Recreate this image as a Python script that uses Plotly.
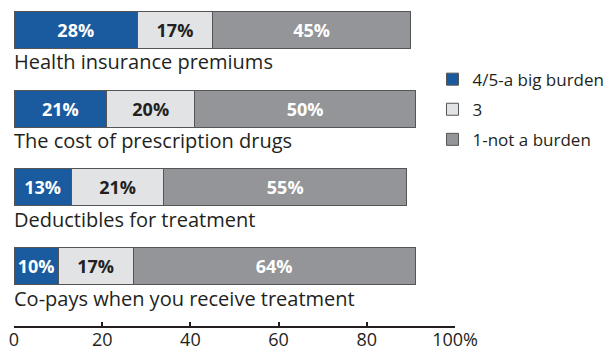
import plotly.graph_objects as go

# Survey items, top to bottom
categories = [
    "Health insurance premiums",
    "The cost of prescription drugs",
    "Deductibles for treatment",
    "Co-pays when you receive treatment",
]

# Share of respondents (%) per burden rating
big_burden = [28, 21, 13, 10]   # 4/5 - a big burden
middle = [17, 20, 21, 17]       # 3
not_burden = [45, 50, 55, 64]   # 1 - not a burden

series_names = ["4/5-a big burden", "3", "1-not a burden"]
tick_values = [0, 20, 40, 60, 80, 100]
tick_labels = ["0", "20", "40", "60", "80", "100%"]

FONT = "Open Sans"
colors = ["#1a5a9e", "#e2e3e5", "#939598"]
text_colors = ["#ffffff", "#231f20", "#ffffff"]

fig = go.Figure()
for i, (name, vals) in enumerate(zip(series_names, [big_burden, middle, not_burden])):
    fig.add_trace(go.Bar(
        y=categories,
        x=vals,
        name=name,
        orientation="h",
        legendgroup=name,
        marker=dict(color=colors[i], line=dict(color="#555555", width=1)),
        width=0.47,
        texttemplate="%{x}%",
        textposition="inside",
        insidetextanchor="middle",
        textangle=0,
        textfont=dict(family=FONT, size=18, color=text_colors[i], weight="bold"),
        hoverinfo="skip",
    ))

# Item names sit under each bar, left aligned with the axis origin
for cat in categories:
    fig.add_annotation(
        x=0, y=cat, xref="x", yref="y",
        text=cat, showarrow=False,
        xanchor="left", yanchor="middle",
        yshift=-32, xshift=-2,
        font=dict(family=FONT, size=20, color="#231f20"),
    )

fig.update_layout(
    width=610, height=350,
    margin=dict(l=14, r=155, t=0, b=24, autoexpand=False),
    barmode="stack",
    plot_bgcolor="white",
    paper_bgcolor="white",
    uniformtext=dict(minsize=18, mode="show"),
    showlegend=True,
    legend=dict(
        xref="container", yref="container",
        x=0.709, y=0.824, xanchor="left", yanchor="top",
        font=dict(family=FONT, size=17, color="#231f20"),
        tracegroupgap=5,
        traceorder="grouped",
        bgcolor="rgba(0,0,0,0)",
    ),
    xaxis=dict(
        range=[0, 100],
        tickvals=tick_values,
        ticktext=tick_labels,
        showgrid=False,
        zeroline=False,
        showline=True,
        linecolor="#231f20",
        linewidth=1.5,
        ticks="inside",
        ticklen=4,
        tickwidth=1.5,
        tickcolor="#231f20",
        ticklabelstandoff=-3,
        tickfont=dict(family=FONT, size=18, color="#231f20"),
    ),
    yaxis=dict(
        categoryorder="array",
        categoryarray=categories,
        range=[3.76, -0.38],
        showticklabels=False,
        showgrid=False,
        zeroline=False,
        showline=False,
    ),
)

fig.write_html("out.html")
